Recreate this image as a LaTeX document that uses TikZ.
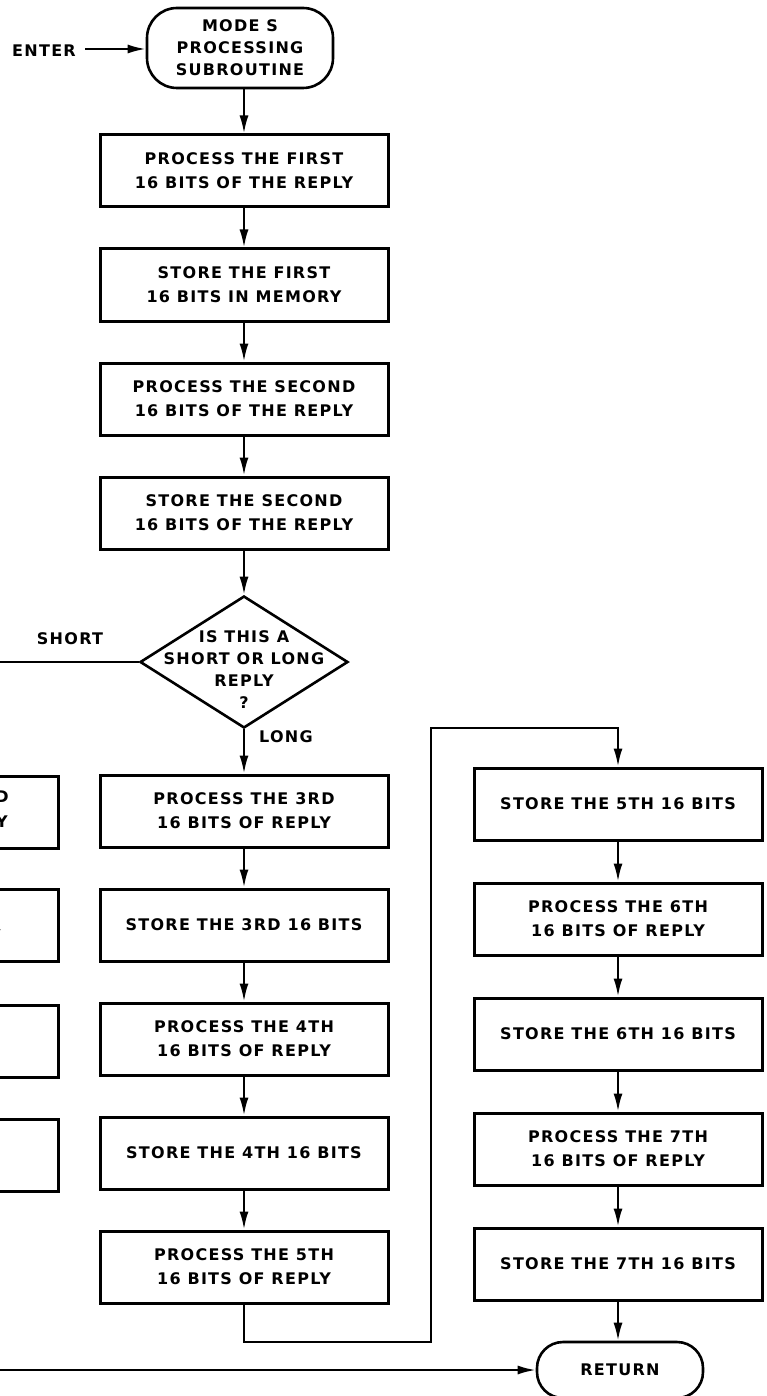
\documentclass[tikz,border=0pt]{standalone}
\usepackage{fontspec}
\newfontfamily\flowfont[LetterSpace=8]{DejaVu Sans}
\usetikzlibrary{arrows.meta,shapes.geometric,positioning}

\newcommand{\flowtxt}{\flowfont\bfseries\fontsize{16}{24}\selectfont}

\tikzset{
	stepbox/.style={draw, line width=3pt, minimum width=288pt, minimum height=72pt, inner sep=0pt, align=center, font=\flowtxt},
	termbox/.style={draw, line width=2.6pt, inner sep=0pt, align=center, font=\flowtxt},
	decide/.style={draw, diamond, line width=2.6pt, inner sep=0pt, minimum width=208pt, minimum height=132pt},
	flowlbl/.style={font=\flowtxt, inner sep=0pt},
	flowarr/.style={line width=2.2pt, -{Latex[length=18pt,width=9pt]}},
	flowline/.style={line width=2.2pt}
}

\begin{document}
\begin{tikzpicture}[x=1pt,y=-1pt]
		\useasboundingbox (0,0) rectangle (767,1396);
		\clip (0,0) rectangle (767,1396);

		% entry
		\node[termbox, minimum width=186pt, minimum height=80pt, rounded corners=30pt, font=\flowfont\bfseries\fontsize{16}{22}\selectfont] (start) at (240,48) {MODE S\\PROCESSING\\SUBROUTINE};
		\node[flowlbl] (enter) at (44,51) {ENTER};
		\coordinate (enterend) at (85,49);

		% first half of the reply
		\node[stepbox] (p1) at (244,171) {PROCESS THE FIRST\\16 BITS OF THE REPLY};
		\node[stepbox] (s1) at (244,285) {STORE THE FIRST\\16 BITS IN MEMORY};
		\node[stepbox] (p2) at (244,399) {PROCESS THE SECOND\\16 BITS OF THE REPLY};
		\node[stepbox] (s2) at (244,513) {STORE THE SECOND\\16 BITS OF THE REPLY};

		% short or long
		\node[decide] (dec) at (244,662) {};
		\node[flowlbl, align=center, font=\flowfont\bfseries\fontsize{16}{22}\selectfont] (decq) at (244,670) {IS THIS A\\SHORT OR LONG\\REPLY\\?};
		\node[flowlbl] (short) at (70,639) {SHORT};
		\node[flowlbl] (long) at (286,737) {LONG};
		\coordinate (shortend) at (0,662);

		% long reply, middle column
		\node[stepbox] (p3) at (244,811) {PROCESS THE 3RD\\16 BITS OF REPLY};
		\node[stepbox] (s3) at (244,925) {STORE THE 3RD 16 BITS};
		\node[stepbox] (p4) at (244,1039) {PROCESS THE 4TH\\16 BITS OF REPLY};
		\node[stepbox] (s4) at (244,1153) {STORE THE 4TH 16 BITS};
		\node[stepbox] (p5) at (244,1267) {PROCESS THE 5TH\\16 BITS OF REPLY};

		% long reply, right column
		\node[stepbox] (s5) at (618,804) {STORE THE 5TH 16 BITS};
		\node[stepbox] (p6) at (618,919) {PROCESS THE 6TH\\16 BITS OF REPLY};
		\node[stepbox] (s6) at (618,1034) {STORE THE 6TH 16 BITS};
		\node[stepbox] (p7) at (618,1149) {PROCESS THE 7TH\\16 BITS OF REPLY};
		\node[stepbox] (s7) at (618,1264) {STORE THE 7TH 16 BITS};

		% short reply column, mostly off the page
		\node[stepbox] (q1) at (-86,812) {};
		\node[stepbox] (q2) at (-86,925) {};
		\node[stepbox] (q3) at (-86,1041) {};
		\node[stepbox] (q4) at (-86,1155) {};
		\node[flowlbl] (q1a) at (2,797) {D};
		\node[flowlbl] (q1b) at (2,822) {Y};
		\node[flowlbl] (q2b) at (-5,936) {Y};

		\node[termbox, minimum width=166pt, minimum height=56pt, rounded corners=26pt] (ret) at (620,1370) {RETURN};
		\coordinate (retfrom) at (0,1370);

		% loop over to the right column
		\coordinate (loopa) at (431,1342);
		\coordinate (loopb) at (431,728);

		\draw[flowarr] (enterend) -- (enterend -| start.west);
		\draw[flowarr] (p1.north |- start.south) -- (p1.north);
		\draw[flowarr] (p1) -- (s1);
		\draw[flowarr] (s1) -- (p2);
		\draw[flowarr] (p2) -- (s2);
		\draw[flowarr] (s2) -- (dec);
		\draw[flowline] (dec.west) -- (shortend);
		\draw[flowarr] (dec.south) -- (p3);
		\draw[flowarr] (p3) -- (s3);
		\draw[flowarr] (s3) -- (p4);
		\draw[flowarr] (p4) -- (s4);
		\draw[flowarr] (s4) -- (p5);
		\draw[flowarr] (p5.south) -- (p5.south |- loopa) -- (loopa) -- (loopb) -- (loopb -| s5.north) -- (s5.north);
		\draw[flowarr] (s5) -- (p6);
		\draw[flowarr] (p6) -- (s6);
		\draw[flowarr] (s6) -- (p7);
		\draw[flowarr] (p7) -- (s7);
		\draw[flowarr] (s7.south) -- (s7.south |- ret.north);
		\draw[flowarr] (retfrom) -- (ret.west);
	\end{tikzpicture}
\end{document}
